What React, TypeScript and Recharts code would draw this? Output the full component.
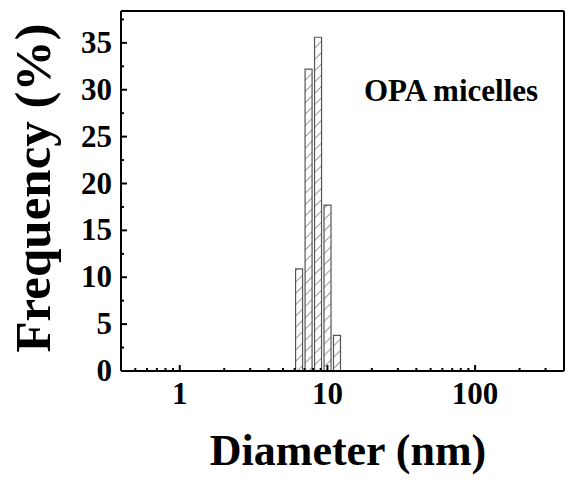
import { Bar, ComposedChart, Label, ReferenceLine, XAxis, YAxis } from 'recharts';

// bin centres (nm), log-spaced
const diameters = [6.45, 7.48, 8.67, 10.05, 11.65];
const frequency = [10.9, 32.2, 35.6, 17.7, 3.8];

const xMajor = [1, 10, 100];
const xTicks = [0.5, 0.6, 0.7, 0.8, 0.9, 1, 2, 3, 4, 5, 6, 7, 8, 9, 10, 20, 30, 40, 50, 60, 70, 80, 90, 100, 200, 300];
const yMajor = [0, 5, 10, 15, 20, 25, 30, 35];
const yTicks = [0, 2.5, 5, 7.5, 10, 12.5, 15, 17.5, 20, 22.5, 25, 27.5, 30, 32.5, 35, 37.5];
const xMax = 400;
const yMax = 38.4;

const data = diameters.map((d, i) => ({ d, f: frequency[i] }));

const font = { fontFamily: '"Liberation Serif", "Times New Roman", serif', fontWeight: 'bold' as const };

const XTick = (props: any) => {
  const { x, y, payload } = props;
  const major = xMajor.includes(payload.value);
  return (
    <g>
      <line x1={x} x2={x} y1={y} y2={y - (major ? 6 : 3)} stroke="#000" strokeWidth={2} />
      {major && (
        <text x={x} y={y + 33} textAnchor="middle" fontSize={31} fill="#000" style={font}>
          {payload.value}
        </text>
      )}
    </g>
  );
};

const YTick = (props: any) => {
  const { x, y, payload } = props;
  const major = yMajor.includes(payload.value);
  return (
    <g>
      <line x1={x} x2={x + (major ? 6 : 3)} y1={y} y2={y} stroke="#000" strokeWidth={2} />
      {major && (
        <text x={x - 9} y={y + 10} textAnchor="end" fontSize={31} fill="#000" style={font}>
          {payload.value}
        </text>
      )}
    </g>
  );
};

export default function App() {
  return (
    <div style={{ position: 'absolute', left: 0, top: 0, background: '#fff' }}>
      <ComposedChart width={570} height={484} data={data} margin={{ top: 11, right: 6, left: 0, bottom: 0 }}>
        <defs>
          <pattern id="hatch" patternUnits="userSpaceOnUse" width={8} height={8} patternTransform="rotate(45)">
            <rect width={8} height={8} fill="#fff" />
            <line x1={0} y1={0} x2={0} y2={8} stroke="#555" strokeWidth={1.2} />
          </pattern>
        </defs>
        <XAxis
          dataKey="d"
          type="number"
          scale="log"
          domain={[0.4, xMax]}
          allowDataOverflow
          ticks={xTicks}
          interval={0}
          tickSize={0}
          tickMargin={0}
          tickLine={false}
          tick={<XTick />}
          height={113}
          axisLine={{ stroke: '#000', strokeWidth: 2 }}
        >
          <Label
            content={() => (
              <text x={348} y={465} textAnchor="middle" fontSize={44} fill="#000" style={font}>
                Diameter (nm)
              </text>
            )}
          />
        </XAxis>
        <YAxis
          type="number"
          domain={[0, yMax]}
          allowDataOverflow
          ticks={yTicks}
          interval={0}
          tickSize={0}
          tickMargin={0}
          tickLine={false}
          tick={<YTick />}
          width={121}
          axisLine={{ stroke: '#000', strokeWidth: 2 }}
        >
          <Label
            content={() => (
              <text transform="translate(50,188) rotate(-90)" textAnchor="middle" fontSize={51} fill="#000" style={font}>
                Frequency (%)
              </text>
            )}
          />
        </YAxis>
        <ReferenceLine
          y={yMax}
          stroke="#000"
          strokeWidth={2}
          ifOverflow="visible"
          label={() => (
            <text x={451} y={101} textAnchor="middle" fontSize={31} fill="#000" style={font}>
              OPA micelles
            </text>
          )}
        />
        <ReferenceLine x={xMax} stroke="#000" strokeWidth={2} ifOverflow="visible" />
        <Bar dataKey="f" barSize={7} fill="url(#hatch)" stroke="#555" strokeWidth={1.2} isAnimationActive={false} />
      </ComposedChart>
    </div>
  );
}
